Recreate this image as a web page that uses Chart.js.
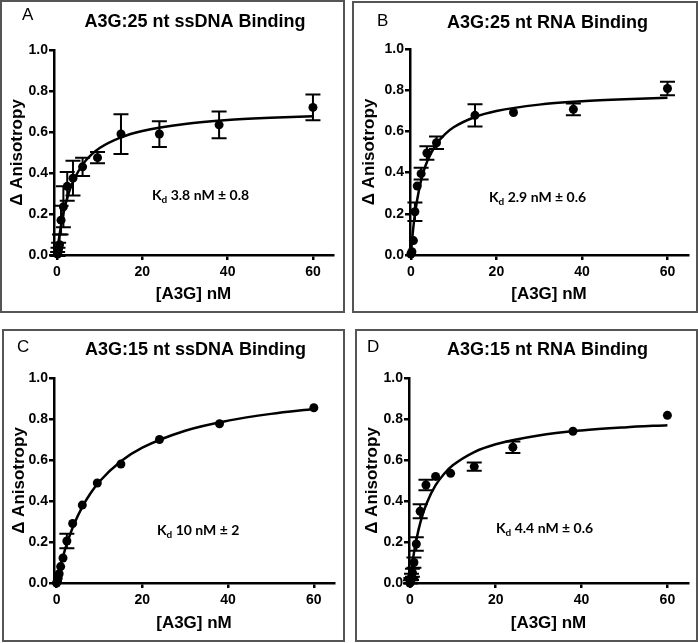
<!DOCTYPE html>
<html>
<head>
<meta charset="utf-8">
<script src="https://cdn.jsdelivr.net/npm/chart.js@4/dist/chart.umd.min.js"></script>
<style>
  body { margin: 0; background: #fff; width: 698px; height: 643px; position: relative; overflow: hidden; }
  .panel { position: absolute; box-sizing: border-box; border: 2px solid #555; }
  .panel canvas { display: block; }
</style>
</head>
<body>
<div class="panel" style="left:0;top:0;width:345px;height:313px"><canvas id="chartA" width="341" height="309"></canvas></div>
<div class="panel" style="left:352px;top:1px;width:346px;height:312px"><canvas id="chartB" width="342" height="308"></canvas></div>
<div class="panel" style="left:2px;top:329px;width:343px;height:313px"><canvas id="chartC" width="339" height="309"></canvas></div>
<div class="panel" style="left:355px;top:329px;width:343px;height:313px"><canvas id="chartD" width="339" height="309"></canvas></div>
<script>
const xTicks = [0, 20, 40, 60];
const yTicks = [0, 0.2, 0.4, 0.6, 0.8, 1.0];
const fitX = [0, 0.5, 1, 2, 3, 4, 6, 8, 10, 15, 20, 30, 40, 50, 60];

// A: 25 nt ssDNA
const concA = [0.15, 0.24, 0.38, 0.6, 0.95, 1.5, 2.4, 3.75, 6, 9.5, 15, 24, 38, 60];
const anisoA = [0.005, 0.015, 0.03, 0.05, 0.17, 0.235, 0.335, 0.375, 0.43, 0.475, 0.59, 0.59, 0.635, 0.72];
const errA = [0.01, 0.02, 0.03, 0.05, 0.07, 0.1, 0.07, 0.085, 0.045, 0.028, 0.097, 0.063, 0.065, 0.063];
const fitA = [0, 0.084, 0.15, 0.248, 0.318, 0.369, 0.441, 0.488, 0.522, 0.574, 0.605, 0.639, 0.658, 0.669, 0.677];

// B: 25 nt RNA
const concB = [0, 0.24, 0.6, 0.95, 1.5, 2.4, 3.75, 6, 15, 24, 38, 60];
const anisoB = [0.005, 0.016, 0.07, 0.21, 0.335, 0.395, 0.495, 0.545, 0.678, 0.692, 0.707, 0.808];
const errB = [0, 0, 0, 0.045, 0, 0.028, 0.033, 0.03, 0.054, 0, 0.028, 0.033];
const fitB = [0, 0.118, 0.205, 0.327, 0.407, 0.464, 0.539, 0.587, 0.62, 0.67, 0.699, 0.73, 0.746, 0.756, 0.763];

// C: 15 nt ssDNA
const concC = [0, 0.15, 0.24, 0.38, 0.6, 0.95, 1.5, 2.4, 3.75, 6, 9.5, 15, 24, 38, 60];
const anisoC = [0, 0.008, 0.015, 0.025, 0.045, 0.08, 0.122, 0.205, 0.29, 0.38, 0.488, 0.58, 0.7, 0.777, 0.855];
const errC = [0, 0, 0, 0, 0, 0, 0, 0.035, 0, 0, 0, 0, 0, 0, 0];
const fitC = [0, 0.047, 0.09, 0.165, 0.228, 0.283, 0.371, 0.44, 0.495, 0.594, 0.66, 0.743, 0.792, 0.825, 0.849];

// D: 15 nt RNA
const concD = [0, 0.15, 0.24, 0.38, 0.6, 0.95, 1.5, 2.4, 3.75, 6, 9.5, 15, 24, 38, 60];
const anisoD = [0, 0.005, 0.012, 0.03, 0.05, 0.1, 0.19, 0.35, 0.478, 0.52, 0.535, 0.568, 0.662, 0.74, 0.818];
const errD = [0, 0.008, 0.012, 0.015, 0.02, 0.025, 0.033, 0.034, 0.026, 0, 0, 0.02, 0.028, 0, 0];
const fitD = [0, 0.084, 0.153, 0.258, 0.335, 0.393, 0.477, 0.533, 0.574, 0.639, 0.677, 0.72, 0.744, 0.759, 0.77];

const FONT = '"Liberation Sans", Arial, sans-serif';

const errorBars = {
    id: 'errorBars',
    beforeDatasetDraw(chart, args) {
        const ds = chart.data.datasets[args.index];
        if (!ds.errors) return;
        const ctx = chart.ctx;
        const ys = chart.scales.y;
        ctx.save();
        ctx.strokeStyle = '#000';
        ctx.lineWidth = 2;
        args.meta.data.forEach((pt, i) => {
            const e = ds.errors[i];
            if (!e) return;
            const v = ds.data[i].y;
            const top = ys.getPixelForValue(v + e);
            const bot = ys.getPixelForValue(v - e);
            ctx.beginPath();
            ctx.moveTo(pt.x, top); ctx.lineTo(pt.x, bot);
            ctx.moveTo(pt.x - 7.5, top); ctx.lineTo(pt.x + 7.5, top);
            ctx.moveTo(pt.x - 7.5, bot); ctx.lineTo(pt.x + 7.5, bot);
            ctx.stroke();
        });
        ctx.restore();
    }
};

const panelText = {
    id: 'panelText',
    afterDraw(chart, args, o) {
        const ctx = chart.ctx;
        const a = chart.chartArea;
        ctx.save();
        ctx.fillStyle = '#000';
        ctx.textBaseline = 'alphabetic';

        ctx.textAlign = 'left';
        ctx.font = '17px ' + FONT;
        ctx.fillText(o.letter, o.letterX, o.letterY);

        ctx.textAlign = 'center';
        ctx.font = 'bold 18px ' + FONT;
        ctx.fillText(o.title, o.titleX, o.titleY);

        // Kd label with subscript d
        ctx.textAlign = 'left';
        let x = a.left + o.kdDx;
        const y = a.top + o.kdDy;
        ctx.font = 'bold 14px Lato, sans-serif';
        ctx.fillText('K', x, y);
        x += ctx.measureText('K').width;
        ctx.font = 'bold 10px Lato, sans-serif';
        ctx.fillText('d', x, y + 3);
        x += ctx.measureText('d').width;
        ctx.font = 'bold 14px Lato, sans-serif';
        ctx.fillText(' ' + o.kd, x, y);
        ctx.restore();
    }
};

function makeChart(id, p) {
    const axisFont = { family: FONT, size: 14, weight: 'bold' };
    const titleFont = { family: FONT, size: 17, weight: 'bold' };
    return new Chart(document.getElementById(id), {
        type: 'scatter',
        data: {
            datasets: [{
                data: p.x.map((v, i) => ({ x: v, y: p.y[i] })),
                errors: p.err,
                pointRadius: 4.5,
                pointBackgroundColor: '#000',
                pointBorderWidth: 0,
                showLine: false,
                clip: false
            }, {
                data: fitX.map((v, i) => ({ x: v, y: p.fit[i] })),
                showLine: true,
                pointRadius: 0,
                borderColor: '#000',
                borderWidth: 2.5,
                cubicInterpolationMode: 'monotone',
                clip: false
            }]
        },
        options: {
            responsive: false,
            animation: false,
            events: [],
            layout: { padding: { top: p.padTop, right: p.padRight, left: 0, bottom: 0 } },
            plugins: {
                legend: { display: false },
                tooltip: { enabled: false },
                panelText: p.text
            },
            scales: {
                x: {
                    type: 'linear',
                    min: p.xMin,
                    max: p.xMax,
                    afterBuildTicks: s => { s.ticks = xTicks.map(v => ({ value: v })); },
                    afterFit: s => { s.height = p.xH; },
                    grid: { drawOnChartArea: false, drawTicks: true, tickLength: 5, color: '#000', lineWidth: 2.5 },
                    border: { display: true, color: '#000', width: 2.5 },
                    ticks: { color: '#000', font: axisFont, padding: 4, maxRotation: 0 },
                    title: { display: true, text: '[A3G] nM', color: '#000', font: titleFont, padding: { top: 0, bottom: 6 } }
                },
                y: {
                    type: 'linear',
                    min: 0,
                    max: 1,
                    afterBuildTicks: s => { s.ticks = yTicks.map(v => ({ value: v })); },
                    afterFit: s => { s.width = p.yW; },
                    grid: { drawOnChartArea: false, drawTicks: true, tickLength: 5, color: '#000', lineWidth: 2.5 },
                    border: { display: true, color: '#000', width: 2.5 },
                    ticks: { color: '#000', font: axisFont, padding: 1, callback: v => v.toFixed(1) },
                    title: { display: true, text: '\u0394 Anisotropy', color: '#000', font: titleFont, padding: { top: 5, bottom: 0 } }
                }
            }
        },
        plugins: [errorBars, panelText]
    });
}

makeChart('chartA', {
    x: concA, y: anisoA, err: errA, fit: fitA,
    xMin: -0.7, xMax: 64.7, padTop: 48, padRight: 10, yW: 52, xH: 56,
    text: { letter: 'A', letterX: 20, letterY: 18, title: 'A3G:25 nt ssDNA Binding', titleX: 193, titleY: 25,
            kd: '3.8 nM \u00b1 0.8', kdDx: 98, kdDy: 150 }
});
makeChart('chartB', {
    x: concB, y: anisoB, err: errB, fit: fitB,
    xMin: -0.2, xMax: 64.8, padTop: 46, padRight: 8, yW: 56, xH: 56,
    text: { letter: 'B', letterX: 23, letterY: 23, title: 'A3G:25 nt RNA Binding', titleX: 193.5, titleY: 25,
            kd: '2.9 nM \u00b1 0.6', kdDx: 79, kdDy: 153 }
});
makeChart('chartC', {
    x: concC, y: anisoC, err: errC, fit: fitC,
    xMin: -0.6, xMax: 64.7, padTop: 47, padRight: 9, yW: 50, xH: 57,
    text: { letter: 'C', letterX: 13, letterY: 21, title: 'A3G:15 nt ssDNA Binding', titleX: 191.5, titleY: 24,
            kd: '10 nM \u00b1 2', kdDx: 103, kdDy: 157 }
});
makeChart('chartD', {
    x: concD, y: anisoD, err: errD, fit: fitD,
    xMin: -0.2, xMax: 64.8, padTop: 47, padRight: 8, yW: 52, xH: 57,
    text: { letter: 'D', letterX: 10, letterY: 21, title: 'A3G:15 nt RNA Binding', titleX: 190.5, titleY: 24,
            kd: '4.4 nM \u00b1 0.6', kdDx: 87, kdDy: 155 }
});
</script>
</body>
</html>
